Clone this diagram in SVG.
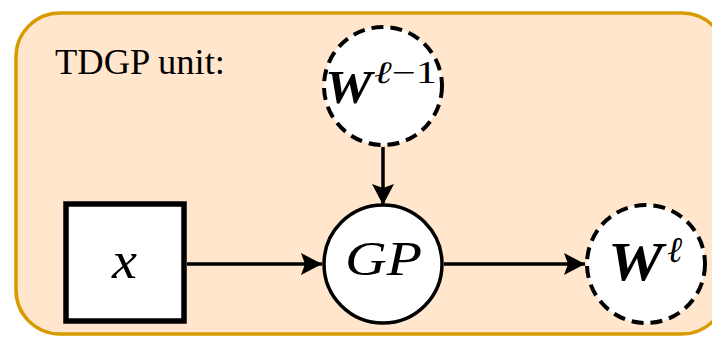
<svg xmlns="http://www.w3.org/2000/svg" width="712" height="337" viewBox="0 0 712 337">
  <style>
    .serif { font-family: "Liberation Serif", "DejaVu Serif", serif; fill: #000; }
    .it { font-style: italic; }
    .bi { font-style: italic; font-weight: bold; }
    .conn { stroke: #000; stroke-width: 3.5; fill: none; }
    .solid { fill: #fff; stroke: #000; stroke-width: 3.5; }
    .dashed { fill: #fff; stroke: #000; stroke-width: 4; stroke-dasharray: 12 7; }
  </style>
  <defs>
    <marker id="arrow" markerUnits="userSpaceOnUse" markerWidth="24" markerHeight="24" viewBox="0 0 24 24" refX="22" refY="12" orient="auto">
      <path d="M1,1 L22,12 L1,23 L5,12 Z" fill="#000"/>
    </marker>
  </defs>
  <g id="container">
    <rect x="16" y="13" width="710" height="321" rx="44" ry="44" fill="#FFE6CC" stroke="#D79B00" stroke-width="3.5"/>
    <text class="serif" x="55" y="74" font-size="36" textLength="170" lengthAdjust="spacingAndGlyphs">TDGP unit:</text>
  </g>
  <g id="connectors">
    <path class="conn" d="M187,264 L322,264" marker-end="url(#arrow)"/>
    <path class="conn" d="M444,264 L585,264" marker-end="url(#arrow)"/>
    <path class="conn" d="M383,147 L383,205" marker-end="url(#arrow)"/>
  </g>
  <g id="node-x">
    <rect x="66" y="204" width="118" height="117" fill="#fff" stroke="#000" stroke-width="5.5"/>
    <text class="serif it" x="112" y="278" font-size="52" textLength="25" lengthAdjust="spacingAndGlyphs">x</text>
  </g>
  <g id="node-gp">
    <circle class="solid" cx="383" cy="264" r="59"/>
    <text class="serif it" x="345" y="275" font-size="49" textLength="77" lengthAdjust="spacingAndGlyphs">GP</text>
  </g>
  <g id="node-w-prev">
    <circle class="dashed" cx="383" cy="86" r="59"/>
    <text class="serif bi" x="325" y="103" font-size="47" textLength="47" lengthAdjust="spacingAndGlyphs">W</text>
    <text class="serif" x="374" y="83" font-size="31" textLength="63" lengthAdjust="spacingAndGlyphs"><tspan class="it">ℓ</tspan>−1</text>
  </g>
  <g id="node-w">
    <circle class="dashed" cx="646" cy="264" r="59"/>
    <text class="serif bi" x="608" y="280" font-size="55" textLength="55" lengthAdjust="spacingAndGlyphs">W</text>
    <text class="serif it" x="667" y="262" font-size="36">ℓ</text>
  </g>
</svg>
